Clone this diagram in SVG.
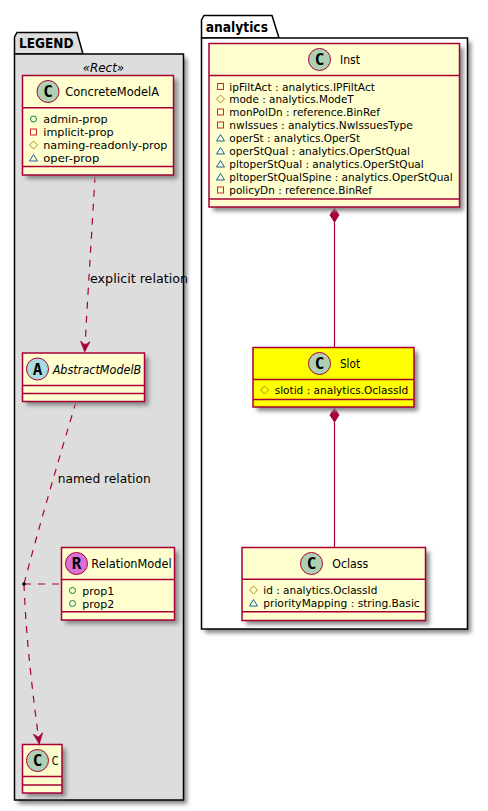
<svg xmlns="http://www.w3.org/2000/svg" width="488" height="811" viewBox="0 0 488 811">
<style>
text{font-family:"DejaVu Sans","Liberation Sans",sans-serif;fill:#000}
.a{font-size:10.6px}
.t{font-size:11.8px}
.b{font-family:"DejaVu Sans",sans-serif;font-size:13.5px;font-weight:bold}
.box{fill:#FEFECE;stroke:#A80036;stroke-width:1.5}
.sl{fill:#FFFF00;stroke:#A80036;stroke-width:1.5}
.ln{stroke:#A80036;stroke-width:1.2;fill:none}
.dv{stroke:#A80036;stroke-width:1.5;fill:none}
.d{stroke-dasharray:7 7}
.c{stroke:#A80036;stroke-width:1}
.pk{stroke:#000;stroke-width:1.5}
.g{font-size:16px;font-weight:bold;font-family:"DejaVu Sans Mono",monospace}
.pub{fill:none;stroke:#038048}
.pri{fill:none;stroke:#C82930}
.pro{fill:none;stroke:#B38D22}
.pac{fill:none;stroke:#1963A0}
</style>
<defs>
<filter id="s" x="-10%" y="-10%" width="125%" height="125%"><feGaussianBlur stdDeviation="2"/></filter>
<marker id="ah" markerUnits="userSpaceOnUse" markerWidth="14" markerHeight="12" refX="11" refY="5" orient="auto"><path d="M0,0L11,5L0,10L4,5Z" fill="#A80036" stroke="#A80036" stroke-width="0.6"/></marker>
<g id="pub"><circle cx="0" cy="0" r="3" class="pub"/></g>
<g id="pri"><rect x="-3" y="-3" width="6" height="6" class="pri"/></g>
<g id="pro"><path d="M0,-4L4,0L0,4L-4,0Z" class="pro"/></g>
<g id="pac"><path d="M0,-3.500L4,3L-4,3Z" class="pac"/></g>
</defs>

<g id="pkg-legend">
<rect x="18" y="58" width="169" height="746" fill="#888" filter="url(#s)"/>
<path d="M14.500,54V37L17,32.500H77L83,54Z" fill="#DDD" class="pk"/>
<rect x="14.500" y="54" width="169" height="746" fill="#DDD" class="pk"/>
<text x="19" y="48" class="b" textLength="54.500" lengthAdjust="spacingAndGlyphs">LEGEND</text>
<text x="82.700" y="72" style="font-size:12.500px;font-style:italic" textLength="41.500" lengthAdjust="spacingAndGlyphs">«Rect»</text>
</g>
<g id="pkg-analytics">
<rect x="205" y="42" width="266" height="591" fill="#888" filter="url(#s)"/>
<path d="M201.500,38V20L204,15.500H272L279,38Z" fill="#fff" class="pk"/>
<rect x="201.500" y="38" width="266" height="591" fill="#fff" class="pk"/>
<text x="205.700" y="32" class="b" textLength="62.300" lengthAdjust="spacingAndGlyphs">analytics</text>
</g>

<g id="connectors">
<path class="ln d" d="M95,176C92,230 88,290 84.700,352" marker-end="url(#ah)"/>
<path class="ln d" d="M76,402C60,455 38,530 24,584"/>
<path class="ln d" d="M24,584C26,640 33,695 39.300,744" marker-end="url(#ah)"/>
<path class="ln d" d="M24,584H61"/>
<circle cx="24" cy="584" r="1.800" fill="#000"/>
<path class="ln" d="M334.500,221V347"/>
<path class="ln" d="M334.500,422V547"/>
<path d="M334.500,208L339,215L334.500,222L330,215Z" fill="#A80036" stroke="#A80036"/>
<path d="M334.500,408L339,415L334.500,422L330,415Z" fill="#A80036" stroke="#A80036"/>
<text x="90" y="283" class="t" textLength="98" lengthAdjust="spacingAndGlyphs">explicit relation</text>
<text x="57.700" y="483" class="t" textLength="93" lengthAdjust="spacingAndGlyphs">named relation</text>
</g>

<g id="ConcreteModelA">
<rect x="26.500" y="79.500" width="151" height="99.500" fill="#888" filter="url(#s)"/>
<rect x="22.500" y="75.500" width="151" height="99.500" class="box"/>
<path class="dv" d="M22.500,107.750H173.500M22.500,166.500H173.500"/>
<circle cx="48" cy="91.500" r="11" fill="#ADD1B2" class="c"/>
<text x="48" y="97" text-anchor="middle" class="g">C</text>
<text x="65.300" y="96" class="t" textLength="93.700" lengthAdjust="spacingAndGlyphs">ConcreteModelA</text>
<use href="#pub" x="33.500" y="119"/><text x="43.300" y="123" class="a" textLength="64.400" lengthAdjust="spacingAndGlyphs">admin-prop</text>
<use href="#pri" x="33.500" y="132"/><text x="43.300" y="136" class="a" textLength="70.400" lengthAdjust="spacingAndGlyphs">implicit-prop</text>
<use href="#pro" x="33.500" y="145"/><text x="43.300" y="149" class="a" textLength="124" lengthAdjust="spacingAndGlyphs">naming-readonly-prop</text>
<use href="#pac" x="33.500" y="158"/><text x="43.300" y="162" class="a" textLength="56" lengthAdjust="spacingAndGlyphs">oper-prop</text>
</g>

<g id="AbstractModelB">
<rect x="26.500" y="357" width="122" height="48.500" fill="#888" filter="url(#s)"/>
<rect x="22.500" y="353" width="122" height="48.500" class="box"/>
<path class="dv" d="M22.500,385.500H144.500M22.500,393.500H144.500"/>
<circle cx="37.500" cy="369" r="11" fill="#A9DCDF" class="c"/>
<text x="37.500" y="374.500" text-anchor="middle" class="g">A</text>
<text x="52.700" y="374" class="t" font-style="italic" textLength="88.600" lengthAdjust="spacingAndGlyphs">AbstractModelB</text>
</g>

<g id="RelationModel">
<rect x="65.500" y="551.500" width="113" height="72.500" fill="#888" filter="url(#s)"/>
<rect x="61.500" y="547.500" width="113" height="72.500" class="box"/>
<path class="dv" d="M61.500,579.500H174.500M61.500,611.750H174.500"/>
<circle cx="76.500" cy="563.500" r="11" fill="#DA70D6" class="c"/>
<text x="76.500" y="569" text-anchor="middle" class="g">R</text>
<text x="91.300" y="568" class="t" textLength="80.400" lengthAdjust="spacingAndGlyphs">RelationModel</text>
<use href="#pub" x="72.500" y="590.500"/><text x="82.300" y="594.500" class="a" textLength="32" lengthAdjust="spacingAndGlyphs">prop1</text>
<use href="#pub" x="72.500" y="603.500"/><text x="82.300" y="607.500" class="a" textLength="32" lengthAdjust="spacingAndGlyphs">prop2</text>
</g>

<g id="C">
<rect x="26.500" y="748.500" width="39.500" height="48.500" fill="#888" filter="url(#s)"/>
<rect x="22.500" y="744.500" width="39.500" height="48.500" class="box"/>
<path class="dv" d="M22.500,776.500H62M22.500,785H62"/>
<circle cx="37.500" cy="760.500" r="11" fill="#ADD1B2" class="c"/>
<text x="37.500" y="766" text-anchor="middle" class="g">C</text>
<text x="51.700" y="765" class="t" textLength="6.600" lengthAdjust="spacingAndGlyphs">C</text>
</g>

<g id="Inst">
<rect x="213" y="47.500" width="250.500" height="163.500" fill="#888" filter="url(#s)"/>
<rect x="209" y="43.500" width="250.500" height="163.500" class="box"/>
<path class="dv" d="M209,75.500H459.500M209,199H459.500"/>
<circle cx="319.500" cy="59.500" r="11" fill="#ADD1B2" class="c"/>
<text x="319.500" y="65" text-anchor="middle" class="g">C</text>
<text x="340" y="64" class="t" textLength="20" lengthAdjust="spacingAndGlyphs">Inst</text>
<use href="#pri" x="220.500" y="86.500"/><text x="229.300" y="90.500" class="a" textLength="145.700" lengthAdjust="spacingAndGlyphs">ipFiltAct : analytics.IPFiltAct</text>
<use href="#pro" x="220.500" y="99"/><text x="229.300" y="103" class="a" textLength="124.400" lengthAdjust="spacingAndGlyphs">mode : analytics.ModeT</text>
<use href="#pri" x="220.500" y="112"/><text x="229.300" y="116" class="a" textLength="150.700" lengthAdjust="spacingAndGlyphs">monPolDn : reference.BinRef</text>
<use href="#pri" x="220.500" y="125"/><text x="229.300" y="129" class="a" textLength="183.400" lengthAdjust="spacingAndGlyphs">nwIssues : analytics.NwIssuesType</text>
<use href="#pac" x="220.500" y="138"/><text x="229.300" y="142" class="a" textLength="130.700" lengthAdjust="spacingAndGlyphs">operSt : analytics.OperSt</text>
<use href="#pac" x="220.500" y="151"/><text x="229.300" y="155" class="a" textLength="180.700" lengthAdjust="spacingAndGlyphs">operStQual : analytics.OperStQual</text>
<use href="#pac" x="220.500" y="164"/><text x="229.300" y="168" class="a" textLength="194.400" lengthAdjust="spacingAndGlyphs">pltoperStQual : analytics.OperStQual</text>
<use href="#pac" x="220.500" y="177"/><text x="229.300" y="181" class="a" textLength="223.400" lengthAdjust="spacingAndGlyphs">pltoperStQualSpine : analytics.OperStQual</text>
<use href="#pri" x="220.500" y="190"/><text x="229.300" y="194" class="a" textLength="142.700" lengthAdjust="spacingAndGlyphs">policyDn : reference.BinRef</text>
</g>

<g id="Slot">
<rect x="257" y="351.500" width="161" height="59.500" fill="#888" filter="url(#s)"/>
<rect x="253" y="347.500" width="161" height="59.500" class="sl"/>
<path class="dv" d="M253,379.500H414M253,399.500H414"/>
<circle cx="319.500" cy="363.500" r="11" fill="#ADD1B2" class="c"/>
<text x="319.500" y="369" text-anchor="middle" class="g">C</text>
<text x="340" y="368" class="t" textLength="20" lengthAdjust="spacingAndGlyphs">Slot</text>
<use href="#pro" x="264.500" y="390"/><text x="274.700" y="394" class="a" textLength="133.600" lengthAdjust="spacingAndGlyphs">slotid : analytics.OclassId</text>
</g>

<g id="Oclass">
<rect x="246" y="551.500" width="183.500" height="73" fill="#888" filter="url(#s)"/>
<rect x="242" y="547.500" width="183.500" height="73" class="box"/>
<path class="dv" d="M242,579.250H425.500M242,611.750H425.500"/>
<circle cx="311.500" cy="563.500" r="11" fill="#ADD1B2" class="c"/>
<text x="311.500" y="569" text-anchor="middle" class="g">C</text>
<text x="332.300" y="568" class="t" textLength="36" lengthAdjust="spacingAndGlyphs">Oclass</text>
<use href="#pro" x="253.500" y="590"/><text x="263.300" y="594" class="a" textLength="114" lengthAdjust="spacingAndGlyphs">id : analytics.OclassId</text>
<use href="#pac" x="253.500" y="603"/><text x="263.300" y="607" class="a" textLength="156.400" lengthAdjust="spacingAndGlyphs">priorityMapping : string.Basic</text>
</g>
</svg>
